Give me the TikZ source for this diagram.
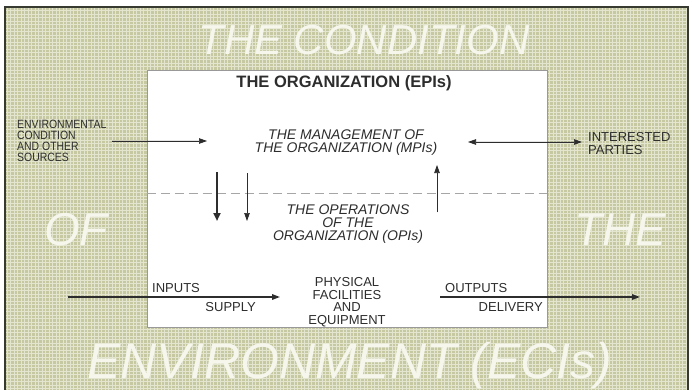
\documentclass[tikz,border=0pt]{standalone}
\usepackage{fontspec}
\setmainfont{Liberation Sans}
\newfontfamily\narrowfont{Liberation Sans}[FakeStretch=0.87]
\usetikzlibrary{arrows.meta, positioning}
\definecolor{olivebg}{RGB}{197,200,161}
\definecolor{olivegrid}{RGB}{228,229,206}
\definecolor{framedark}{RGB}{55,58,48}
\definecolor{inktext}{RGB}{45,45,45}
\definecolor{paletext}{RGB}{246,246,236}

\begin{document}
\begin{tikzpicture}[
x=1pt, y=-1pt,
bigword/.style={text=paletext, font=\itshape\fontsize{46}{46}\selectfont, inner sep=0pt},
label/.style={text=inktext, font=\fontsize{13}{13}\selectfont, inner sep=0pt, align=left},
inner/.style={text=inktext, font=\itshape\fontsize{14}{13}\selectfont, inner sep=0pt, align=center},
orgbox/.style={rectangle, draw=gray!80, fill=white, minimum width=400pt, minimum height=257pt},
arrow/.style={-{Triangle[length=8pt,width=5.5pt]}, line width=0.7pt, draw=inktext, fill=inktext},
thickarrow/.style={arrow, line width=1.5pt},
divider/.style={dashed, dash pattern=on 9pt off 5pt, draw=gray!70, line width=0.8pt}
]

\useasboundingbox (0,0) rectangle (692,390);
\begin{scope}
\clip (0,0) rectangle (692,390);
\fill[olivebg] (5,7) rectangle (688,400);
\draw[olivegrid, line width=0.8pt, step=3.5pt] (5,7) grid (688,400);
\draw[framedark, line width=2pt] (5,7) rectangle (688,400);
\end{scope}

% environment words
\node[bigword, font=\itshape\fontsize{42}{42}\selectfont] (condition) at (364,40) {THE CONDITION};
\node[bigword] (of) at (76,230) {OF};
\node[bigword] (the) at (620,230) {THE};
\node[bigword, font=\itshape\fontsize{50}{50}\selectfont] (environment) at (350,366) {ENVIRONMENT (ECIs)};

% the organization
\node[orgbox] (org) at (347,198.5) {};
\node[text=inktext, font=\bfseries\fontsize{16.5}{16.5}\selectfont, inner sep=0pt] (title) at (344,83) {THE ORGANIZATION (EPIs)};
\coordinate (split) at (347,193);
\draw[divider] (split -| org.west) -- (split -| org.east);

\node[inner] (mgmt) at (346,143) {THE MANAGEMENT OF\\THE ORGANIZATION (MPIs)};
\node[inner] (ops) at (348,224) {THE OPERATIONS\\OF THE\\ORGANIZATION (OPIs)};
\node[label, align=center, font=\fontsize{13}{12.5}\selectfont] (plant) at (347,302) {PHYSICAL\\FACILITIES\\AND\\EQUIPMENT};

\node[label, anchor=north west, font=\narrowfont\fontsize{12}{11.2}\selectfont] (sources) at (17,119.5) {ENVIRONMENTAL\\CONDITION\\AND OTHER\\SOURCES};
\node[label, anchor=north west] (parties) at (588,132) {INTERESTED\\PARTIES};

\node[label, anchor=west] (inputs) at (152,288) {INPUTS};
\node[label, anchor=east] (supply) at (256,307) {SUPPLY};
\node[label, anchor=west] (outputs) at (445,288) {OUTPUTS};
\node[label, anchor=east] (delivery) at (543,307) {DELIVERY};

% arrow ends
\coordinate (envfrom) at (112,141);
\coordinate (envto) at (207,141);
\coordinate (partyleft) at (468,142);
\coordinate (partyright) at (582,142);
\coordinate (downAtop) at (217,172);
\coordinate (downAbot) at (217,221);
\coordinate (downBtop) at (247,173);
\coordinate (downBbot) at (247,221);
\coordinate (uptop) at (437,165);
\coordinate (upbot) at (437,212);
\coordinate (infrom) at (68,297);
\coordinate (into) at (280,297);
\coordinate (outfrom) at (440,297);
\coordinate (outto) at (640,297);

\draw[arrow] (envfrom) -- (envto);
\draw[arrow, {Triangle[length=8pt,width=5.5pt]}-{Triangle[length=8pt,width=5.5pt]}] (partyleft) -- (partyright);
\draw[arrow, line width=2.6pt, -{Triangle[length=8pt,width=7pt]}] (downAtop) -- (downAbot);
\draw[arrow] (downBtop) -- (downBbot);
\draw[arrow] (upbot) -- (uptop);
\draw[thickarrow] (infrom) -- (into);
\draw[thickarrow] (outfrom) -- (outto);

\end{tikzpicture}
\end{document}
